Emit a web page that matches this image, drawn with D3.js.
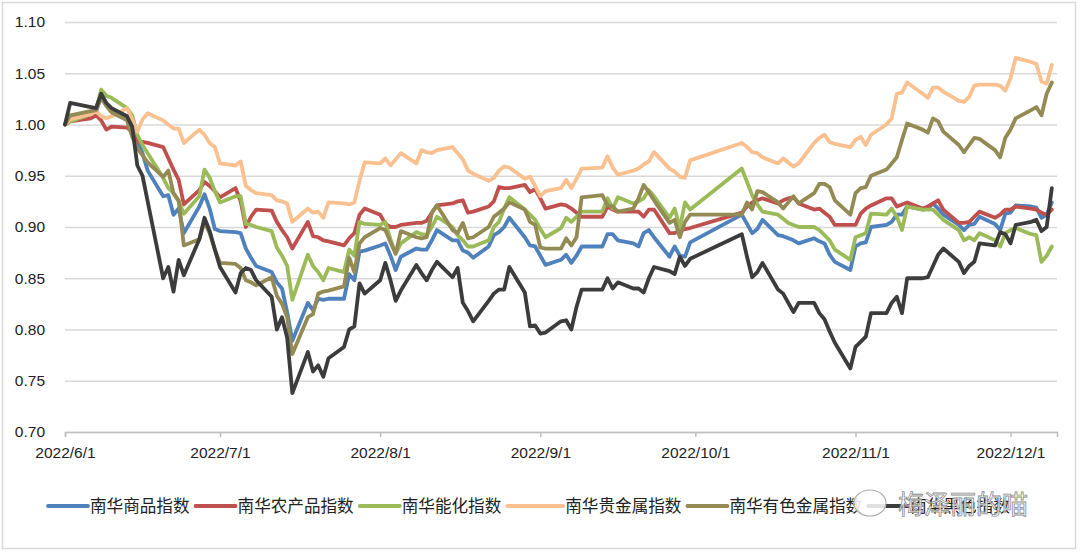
<!DOCTYPE html>
<html>
<head>
<meta charset="utf-8">
<script src="https://cdn.jsdelivr.net/npm/d3@7"></script>
<style>
  body { margin: 0; background: #fff; }
  svg { display: block; }
</style>
</head>
<body>
<script>
// trading days, 2022 (year is added when parsed)
const dates = [
  "6/1","6/2","6/6","6/7","6/8","6/9","6/10","6/13","6/14","6/15","6/16","6/17","6/20","6/21","6/22","6/23","6/24","6/27","6/28","6/29","6/30",
  "7/1","7/4","7/5","7/6","7/7","7/8","7/11","7/12","7/13","7/14","7/15","7/18","7/19","7/20","7/21","7/22","7/25","7/26","7/27","7/28","7/29",
  "8/1","8/2","8/3","8/4","8/5","8/8","8/9","8/10","8/11","8/12","8/15","8/16","8/17","8/18","8/19","8/22","8/23","8/24","8/25","8/26","8/29","8/30","8/31",
  "9/1","9/2","9/5","9/6","9/7","9/8","9/9","9/13","9/14","9/15","9/16","9/19","9/20","9/21","9/22","9/23","9/26","9/27","9/28","9/29","9/30",
  "10/10","10/11","10/12","10/13","10/14","10/17","10/18","10/19","10/20","10/21","10/24","10/25","10/26","10/27","10/28","10/31",
  "11/1","11/2","11/3","11/4","11/7","11/8","11/9","11/10","11/11","11/14","11/15","11/16","11/17","11/18","11/21","11/22","11/23","11/24","11/25","11/28","11/29","11/30",
  "12/1","12/2","12/5","12/6","12/7","12/8","12/9"
];

const commodity = [
  1.000,1.006,1.010,1.012,1.028,1.020,1.015,1.008,0.998,0.985,0.972,0.955,0.930,0.931,0.912,0.918,0.894,0.920,0.932,0.918,0.898,
  0.896,0.895,0.894,0.879,0.870,0.862,0.856,0.846,0.840,0.817,0.789,0.826,0.819,0.830,0.829,0.830,0.830,0.854,0.848,0.876,0.877,
  0.882,0.884,0.872,0.858,0.871,0.879,0.878,0.878,0.887,0.897,0.887,0.887,0.877,0.875,0.870,0.881,0.892,0.895,0.900,0.909,0.890,0.882,0.881,
  0.872,0.863,0.868,0.873,0.865,0.872,0.881,0.881,0.893,0.893,0.887,0.884,0.881,0.894,0.897,0.890,0.871,0.881,0.872,0.871,0.885,
  0.912,0.903,0.894,0.898,0.907,0.892,0.891,0.889,0.887,0.884,0.889,0.886,0.884,0.873,0.866,0.858,
  0.881,0.884,0.885,0.900,0.902,0.905,0.912,0.912,0.920,0.917,0.918,0.923,0.918,0.912,0.902,0.897,0.902,0.903,0.910,0.903,0.897,0.913,
  0.914,0.921,0.920,0.919,0.909,0.912,0.924
];
const agri = [
  1.000,1.003,1.006,1.009,1.004,0.995,0.998,0.997,0.993,0.983,0.983,0.982,0.978,0.967,0.956,0.946,0.922,0.936,0.944,0.940,0.935,
  0.929,0.938,0.925,0.900,0.910,0.917,0.916,0.905,0.897,0.890,0.879,0.905,0.891,0.890,0.887,0.886,0.882,0.889,0.894,0.912,0.918,
  0.912,0.903,0.900,0.900,0.902,0.904,0.904,0.906,0.914,0.921,0.923,0.925,0.926,0.914,0.915,0.920,0.925,0.939,0.938,0.938,0.941,0.934,0.937,
  0.928,0.918,0.922,0.921,0.918,0.914,0.910,0.910,0.920,0.917,0.915,0.915,0.915,0.910,0.917,0.917,0.894,0.894,0.897,0.898,0.899,
  0.914,0.920,0.924,0.926,0.928,0.923,0.926,0.928,0.929,0.923,0.917,0.918,0.914,0.910,0.902,0.902,
  0.902,0.913,0.918,0.921,0.928,0.928,0.920,0.922,0.924,0.918,0.920,0.923,0.926,0.917,0.904,0.904,0.905,0.910,0.915,0.909,0.912,0.917,
  0.917,0.920,0.918,0.917,0.914,0.912,0.917
];
const energy_chem = [
  1.000,1.003,1.010,1.014,1.034,1.028,1.026,1.016,1.009,0.990,0.980,0.972,0.948,0.938,0.933,0.925,0.913,0.930,0.956,0.948,0.935,
  0.924,0.930,0.930,0.903,0.902,0.900,0.896,0.880,0.872,0.862,0.829,0.873,0.862,0.856,0.848,0.860,0.856,0.878,0.872,0.905,0.903,
  0.902,0.905,0.888,0.874,0.884,0.895,0.893,0.892,0.900,0.910,0.900,0.892,0.887,0.881,0.881,0.887,0.900,0.905,0.918,0.929,0.917,0.912,0.907,
  0.898,0.890,0.899,0.909,0.905,0.910,0.915,0.915,0.928,0.918,0.929,0.923,0.925,0.928,0.936,0.930,0.909,0.918,0.899,0.924,0.917,
  0.957,0.944,0.931,0.922,0.915,0.912,0.908,0.904,0.902,0.900,0.900,0.897,0.892,0.887,0.878,0.868,
  0.890,0.892,0.894,0.913,0.912,0.918,0.910,0.897,0.920,0.917,0.917,0.917,0.912,0.907,0.897,0.887,0.890,0.887,0.894,0.887,0.881,0.894,
  0.897,0.899,0.893,0.892,0.866,0.872,0.881
];
const precious = [
  1.000,1.005,1.010,1.013,1.008,1.006,1.008,1.016,1.005,0.993,1.005,1.011,1.004,1.000,0.996,0.996,0.982,0.995,0.990,0.982,0.978,
  0.962,0.960,0.964,0.940,0.936,0.933,0.931,0.926,0.925,0.923,0.905,0.918,0.914,0.915,0.909,0.924,0.923,0.922,0.924,0.945,0.963,
  0.962,0.967,0.960,0.966,0.972,0.962,0.975,0.973,0.972,0.975,0.978,0.972,0.966,0.955,0.952,0.945,0.948,0.955,0.959,0.958,0.947,0.949,0.940,
  0.930,0.935,0.938,0.946,0.938,0.947,0.957,0.958,0.969,0.958,0.951,0.955,0.957,0.961,0.964,0.973,0.957,0.954,0.949,0.948,0.965,
  0.982,0.978,0.973,0.972,0.968,0.962,0.967,0.963,0.959,0.962,0.982,0.987,0.990,0.983,0.981,0.978,
  0.985,0.988,0.980,0.990,1.000,1.006,1.030,1.031,1.041,1.030,1.026,1.036,1.036,1.032,1.023,1.022,1.027,1.038,1.039,1.039,1.038,1.033,
  1.045,1.065,1.061,1.059,1.042,1.040,1.058
];
const nonferrous = [
  1.000,1.009,1.013,1.014,1.026,1.018,1.012,1.004,0.988,0.977,0.970,0.963,0.949,0.955,0.933,0.926,0.882,0.888,0.905,0.894,0.878,
  0.865,0.864,0.860,0.848,0.846,0.843,0.851,0.833,0.825,0.812,0.776,0.812,0.815,0.835,0.837,0.838,0.842,0.870,0.856,0.884,0.890,
  0.899,0.897,0.885,0.874,0.896,0.890,0.889,0.890,0.914,0.921,0.897,0.894,0.904,0.889,0.890,0.900,0.910,0.914,0.918,0.924,0.917,0.905,0.902,
  0.880,0.879,0.879,0.889,0.882,0.890,0.929,0.931,0.921,0.920,0.915,0.918,0.928,0.941,0.934,0.926,0.904,0.907,0.890,0.905,0.912,
  0.912,0.924,0.917,0.935,0.934,0.924,0.918,0.924,0.930,0.923,0.933,0.942,0.942,0.939,0.926,0.912,
  0.933,0.938,0.939,0.950,0.956,0.962,0.968,0.985,1.001,0.995,0.992,1.006,1.003,0.993,0.980,0.973,0.980,0.987,0.986,0.975,0.968,0.987,
  0.995,1.006,1.014,1.017,1.009,1.030,1.041
];
const ferrous = [
  1.000,1.021,1.017,1.016,1.030,1.021,1.016,1.008,0.998,0.960,0.950,0.925,0.850,0.861,0.837,0.868,0.853,0.888,0.909,0.896,0.878,
  0.861,0.836,0.855,0.860,0.858,0.848,0.832,0.800,0.812,0.792,0.738,0.778,0.759,0.765,0.754,0.772,0.783,0.800,0.803,0.845,0.835,
  0.848,0.865,0.848,0.828,0.838,0.863,0.855,0.848,0.858,0.866,0.851,0.860,0.826,0.818,0.808,0.828,0.835,0.839,0.839,0.861,0.836,0.803,0.804,
  0.796,0.797,0.808,0.809,0.800,0.822,0.839,0.839,0.850,0.840,0.846,0.840,0.840,0.836,0.850,0.861,0.857,0.854,0.871,0.862,0.869,
  0.893,0.871,0.851,0.856,0.865,0.839,0.835,0.826,0.817,0.826,0.826,0.816,0.810,0.798,0.787,0.762,
  0.783,0.788,0.793,0.816,0.816,0.826,0.832,0.816,0.850,0.850,0.851,0.862,0.873,0.879,0.866,0.855,0.862,0.866,0.884,0.882,0.895,0.893,
  0.884,0.902,0.905,0.907,0.896,0.900,0.938
];

const series_names = ["南华商品指数", "南华农产品指数", "南华能化指数", "南华贵金属指数", "南华有色金属指数", "南华黑色指数"];
const series_values = [commodity, agri, energy_chem, precious, nonferrous, ferrous];
const series_colors = ["#4F81BD", "#C0504D", "#9BBB59", "#FAC08F", "#948A54", "#3C3C3C"];
const y_ticks = [0.70, 0.75, 0.80, 0.85, 0.90, 0.95, 1.00, 1.05, 1.10];

const width = 1080, height = 552;
const plot = {left: 65, right: 1057, top: 22, bottom: 432};
const line_w = 3.8;
const font = "'Liberation Sans', Arial, sans-serif";
const cjk_font = "'Noto Sans CJK SC', sans-serif";

const parse_day = d3.timeParse("%Y/%m/%d");
const days = dates.map(d => parse_day("2022/" + d));

let svg = d3.select("body").append("svg")
        .attr("width", width)
        .attr("height", height);

svg.append("rect")
   .attr("x", 2.5).attr("y", 2.5)
   .attr("width", 1073).attr("height", 546)
   .attr("fill", "#fff")
   .attr("stroke", "#d9d9d9")
   .attr("stroke-width", 1.5);

let x = d3.scaleTime()
          .domain([parse_day("2022/6/1"), parse_day("2022/12/10")])
          .range([plot.left, plot.right]);
let y = d3.scaleLinear()
          .domain([0.70, 1.10])
          .range([plot.bottom, plot.top]);

// grid + y labels
let y_axis = d3.axisLeft(y)
               .tickValues(y_ticks)
               .tickSize(-(plot.right - plot.left))
               .tickPadding(20)
               .tickFormat(d3.format(".2f"));
let gy = svg.append("g")
            .attr("transform", "translate(" + plot.left + ",0)")
            .call(y_axis);
gy.select(".domain").remove();
gy.selectAll(".tick line").attr("stroke", "#d9d9d9").attr("stroke-width", 1.5);
gy.selectAll(".tick text")
  .attr("font-family", font).attr("font-size", 15.5).attr("fill", "#222");

// date axis
let month_ticks = d3.timeMonth.range(parse_day("2022/6/1"), parse_day("2022/12/2"));
let x_axis = d3.axisBottom(x)
               .tickValues(month_ticks)
               .tickSize(5)
               .tickPadding(10)
               .tickFormat(d => d.getFullYear() + "/" + (d.getMonth() + 1) + "/" + d.getDate());
let gx = svg.append("g")
            .attr("transform", "translate(0," + plot.bottom + ")")
            .call(x_axis);
gx.select(".domain").attr("stroke", "#bfbfbf").attr("stroke-width", 1.5);
gx.selectAll(".tick line").attr("stroke", "#bfbfbf").attr("stroke-width", 1.5);
gx.selectAll(".tick text")
  .attr("font-family", font).attr("font-size", 15.5).attr("fill", "#222");

// lines
let line = d3.line()
             .x((d, i) => x(days[i]))
             .y(d => y(d));

series_values.forEach(function(vals, k){
  svg.append("path")
     .datum(vals)
     .attr("d", line)
     .attr("fill", "none")
     .attr("stroke", series_colors[k])
     .attr("stroke-width", line_w)
     .attr("stroke-linejoin", "round")
     .attr("stroke-linecap", "round");
});

// legend
let legend = svg.append("g").attr("transform", "translate(0,506)");
let lx = 48;
series_names.forEach(function(name, k){
  let len = (k === 3) ? 56 : 40;   // the orange key is drawn longer in the original
  legend.append("line")
        .attr("x1", lx).attr("x2", lx + len)
        .attr("y1", 0).attr("y2", 0)
        .attr("stroke", series_colors[k])
        .attr("stroke-width", line_w)
        .attr("stroke-linecap", "round");
  let t = legend.append("text")
                .attr("x", lx + len + 2)
                .attr("y", 0)
                .attr("dy", "0.36em")
                .attr("font-family", cjk_font)
                .attr("font-size", 16.6)
                .attr("fill", "#222")
                .text(name);
  lx += len + 2 + t.node().getComputedTextLength() + 6;
});

// watermark
let wm = svg.append("g").attr("transform", "translate(0,505)");
wm.append("ellipse").attr("cx", 870).attr("cy", -2).attr("rx", 16).attr("ry", 13)
  .attr("fill", "rgba(255,255,255,0.85)").attr("stroke", "#b0b0b0").attr("stroke-width", 1.2);
wm.append("text")
  .attr("x", 898).attr("y", 0).attr("dy", "0.36em")
  .attr("font-family", cjk_font)
  .attr("font-size", 26)
  .attr("fill", "rgba(255,255,255,0.85)")
  .attr("stroke", "#8c8c8c")
  .attr("stroke-width", 0.8)
  .text("梅泽丽的喵");
</script>
</body>
</html>
